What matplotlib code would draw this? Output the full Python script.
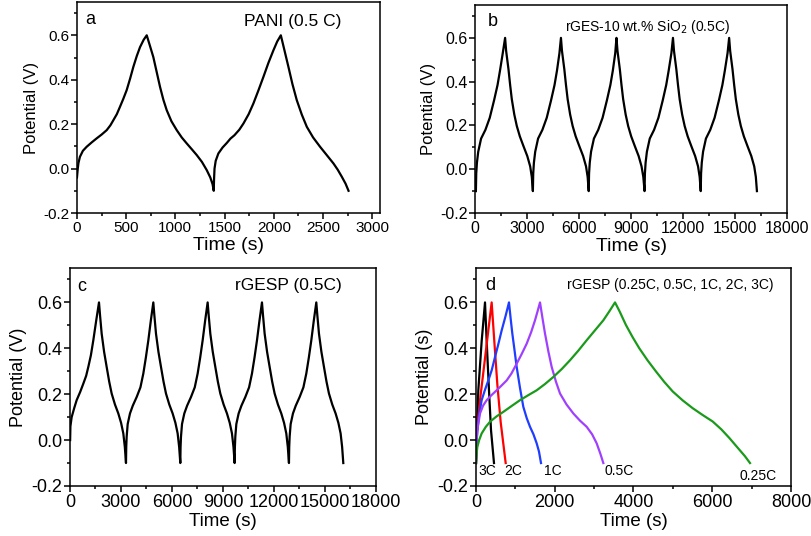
import matplotlib.pyplot as plt
from matplotlib.ticker import MultipleLocator

plt.rcParams['font.family'] = ['Liberation Sans', 'DejaVu Sans']

# ---- (a) PANI, 0.5 C
a_time = [0, 8, 15, 30, 60, 98, 150, 200, 250, 302, 340, 370, 405, 437, 470, 505, 540, 573, 608, 641, 678, 709,
          740, 776, 810, 844, 878, 912, 960, 1014, 1065, 1116, 1165, 1217, 1270, 1319, 1355, 1378, 1390,
          1393, 1398, 1410, 1437, 1480, 1522, 1560, 1600, 1650, 1692, 1745, 1793, 1845, 1895, 1945, 1997, 2035, 2072,
          2110, 2149, 2190, 2234, 2285, 2336, 2400, 2471, 2540, 2607, 2650, 2692, 2730, 2760]
a_volt = [-0.04, 0.0, 0.025, 0.053, 0.08, 0.098, 0.118, 0.136, 0.153, 0.173, 0.195, 0.218, 0.245, 0.278, 0.313,
          0.353, 0.405, 0.458, 0.507, 0.547, 0.58, 0.6,
          0.555, 0.502, 0.435, 0.368, 0.31, 0.263, 0.213, 0.173, 0.14, 0.113, 0.088, 0.061, 0.03, -0.007, -0.04,
          -0.07, -0.1,
          -0.05, 0.0, 0.035, 0.068, 0.095, 0.115, 0.135, 0.15, 0.175, 0.203, 0.245, 0.293, 0.353, 0.413, 0.475,
          0.533, 0.572, 0.6,
          0.53, 0.458, 0.38, 0.308, 0.243, 0.188, 0.14, 0.098, 0.06, 0.023, -0.005, -0.037, -0.068, -0.1]

# ---- (b) rGES-10 wt.% SiO2, 0.5C (five cycles)
b_time = [50, 70, 110, 185, 350, 600, 850, 1100, 1300, 1440, 1600, 1736,
          1796, 1930, 2026, 2122, 2266, 2412, 2586, 2798, 3016, 3183, 3276, 3338,
          3358, 3398, 3473, 3638, 3888, 4138, 4388, 4588, 4728, 4870, 4958,
          5018, 5152, 5248, 5344, 5488, 5634, 5808, 6020, 6238, 6405, 6498, 6560,
          6580, 6620, 6695, 6860, 7110, 7360, 7610, 7810, 7950, 8090, 8161,
          8221, 8355, 8451, 8547, 8691, 8837, 9011, 9223, 9441, 9608, 9710, 9782,
          9802, 9842, 9917, 10082, 10332, 10582, 10832, 11032, 11172, 11330, 11421,
          11481, 11615, 11711, 11807, 11951, 12097, 12271, 12483, 12701, 12868, 12961, 13023,
          13043, 13083, 13158, 13323, 13573, 13823, 14073, 14273, 14413, 14570, 14662,
          14722, 14856, 14952, 15048, 15192, 15338, 15512, 15724, 15942, 16109, 16202, 16265]
b_volt = [-0.1, -0.02, 0.03, 0.08, 0.14, 0.18, 0.235, 0.315, 0.385, 0.45, 0.53, 0.6,
          0.54, 0.457, 0.385, 0.32, 0.25, 0.197, 0.15, 0.105, 0.06, 0.013, -0.035, -0.1,
          -0.02, 0.03, 0.08, 0.14, 0.18, 0.235, 0.315, 0.385, 0.45, 0.53, 0.6,
          0.54, 0.457, 0.385, 0.32, 0.25, 0.197, 0.15, 0.105, 0.06, 0.013, -0.035, -0.1,
          -0.02, 0.03, 0.08, 0.14, 0.18, 0.235, 0.315, 0.385, 0.45, 0.53, 0.6,
          0.54, 0.457, 0.385, 0.32, 0.25, 0.197, 0.15, 0.105, 0.06, 0.013, -0.035, -0.1,
          -0.02, 0.03, 0.08, 0.14, 0.18, 0.235, 0.315, 0.385, 0.45, 0.53, 0.6,
          0.54, 0.457, 0.385, 0.32, 0.25, 0.197, 0.15, 0.105, 0.06, 0.013, -0.035, -0.1,
          -0.02, 0.03, 0.08, 0.14, 0.18, 0.235, 0.315, 0.385, 0.45, 0.53, 0.6,
          0.54, 0.457, 0.385, 0.32, 0.25, 0.197, 0.15, 0.105, 0.06, 0.013, -0.035, -0.1]

# ---- (c) rGESP, 0.5C (five cycles)
c_time = [8, 25, 98, 250, 392, 600, 784, 950, 1078, 1230, 1372, 1540, 1706,
          1766, 1863, 2006, 2157, 2306, 2451, 2646, 2843, 3006, 3137, 3226, 3294,
          3309, 3334, 3394, 3529, 3694, 3924, 4144, 4314, 4464, 4609, 4754, 4902,
          4962, 5059, 5202, 5353, 5502, 5647, 5842, 6039, 6202, 6333, 6422, 6490,
          6505, 6530, 6590, 6725, 6890, 7120, 7340, 7510, 7660, 7805, 7950, 8098,
          8158, 8255, 8398, 8549, 8698, 8843, 9038, 9235, 9398, 9529, 9618, 9686,
          9701, 9726, 9786, 9921, 10086, 10316, 10536, 10706, 10856, 11001, 11146, 11294,
          11354, 11451, 11594, 11745, 11894, 12039, 12234, 12431, 12594, 12725, 12814, 12882,
          12897, 12922, 12982, 13117, 13282, 13512, 13732, 13902, 14052, 14197, 14342, 14490,
          14550, 14647, 14790, 14941, 15090, 15235, 15430, 15627, 15790, 15921, 16010, 16078]
c_volt = [0.0, 0.06, 0.1, 0.14, 0.174, 0.21, 0.246, 0.28, 0.319, 0.37, 0.435, 0.52, 0.6,
          0.545, 0.464, 0.385, 0.319, 0.255, 0.203, 0.155, 0.116, 0.075, 0.029, -0.03, -0.1,
          -0.03, 0.015, 0.07, 0.116, 0.15, 0.188, 0.23, 0.29, 0.36, 0.435, 0.52, 0.6,
          0.545, 0.464, 0.385, 0.319, 0.255, 0.203, 0.155, 0.116, 0.075, 0.029, -0.03, -0.1,
          -0.03, 0.015, 0.07, 0.116, 0.15, 0.188, 0.23, 0.29, 0.36, 0.435, 0.52, 0.6,
          0.545, 0.464, 0.385, 0.319, 0.255, 0.203, 0.155, 0.116, 0.075, 0.029, -0.03, -0.1,
          -0.03, 0.015, 0.07, 0.116, 0.15, 0.188, 0.23, 0.29, 0.36, 0.435, 0.52, 0.6,
          0.545, 0.464, 0.385, 0.319, 0.255, 0.203, 0.155, 0.116, 0.075, 0.029, -0.03, -0.1,
          -0.03, 0.015, 0.07, 0.116, 0.15, 0.188, 0.23, 0.29, 0.36, 0.435, 0.52, 0.6,
          0.545, 0.464, 0.385, 0.319, 0.255, 0.203, 0.155, 0.116, 0.075, 0.029, -0.03, -0.1]

# ---- (d) rGESP at different C-rates
d_rates = ['3C', '2C', '1C', '0.5C', '0.25C']
d_colors = ['black', '#ff0000', '#1f3dff', '#a040ff', '#1a9a1a']
d_time = [
    [0, 59, 144, 229, 271, 330, 381, 457],
    [0, 17, 102, 203, 313, 398, 465, 542, 627, 754],
    [0, 10, 34, 80, 144, 230, 313, 400, 483, 570, 652, 750, 838,
     880, 923, 980, 1033, 1120, 1202, 1290, 1372, 1460, 1541, 1600, 1651],
    [0, 10, 34, 102, 180, 271, 400, 525, 650, 779, 900, 1033, 1160, 1287, 1400, 1499, 1570, 1626,
     1690, 1753, 1840, 1922, 2030, 2134, 2300, 2473, 2640, 2811, 2950, 3065, 3160, 3234],
    [0, 15, 34, 80, 144, 250, 356, 520, 694, 900, 1118, 1330, 1541, 1750, 1964, 2180, 2388,
     2600, 2811, 3020, 3234, 3390, 3531,
     3650, 3810, 3980, 4148, 4360, 4572, 4780, 4996, 5250, 5504, 5760, 6012, 6230, 6436,
     6570, 6690, 6830, 6960],
]
d_volt = [
    [-0.1, 0.217, 0.431, 0.6, 0.431, 0.217, 0.044, -0.1],
    [-0.1, 0.029, 0.174, 0.319, 0.478, 0.6, 0.431, 0.243, 0.078, -0.1],
    [-0.1, -0.03, 0.044, 0.11, 0.174, 0.22, 0.26, 0.305, 0.362, 0.42, 0.478, 0.54, 0.6,
     0.53, 0.464, 0.39, 0.319, 0.225, 0.145, 0.095, 0.058, 0.025, -0.014, -0.05, -0.1],
    [-0.1, -0.02, 0.044, 0.116, 0.15, 0.174, 0.197, 0.217, 0.238, 0.26, 0.29, 0.333, 0.375, 0.42,
     0.47, 0.522, 0.565, 0.6,
     0.53, 0.464, 0.385, 0.319, 0.255, 0.203, 0.155, 0.116, 0.085, 0.058, 0.025, -0.014, -0.06, -0.1],
    [-0.1, -0.06, -0.03, 0.0, 0.029, 0.058, 0.08, 0.103, 0.123, 0.148, 0.174, 0.196, 0.217, 0.244,
     0.275, 0.31, 0.348, 0.39, 0.435, 0.478, 0.522, 0.562, 0.6,
     0.56, 0.501, 0.448, 0.4, 0.347, 0.299, 0.254, 0.212, 0.173, 0.139, 0.109, 0.081, 0.047, 0.009,
     -0.018, -0.042, -0.07, -0.1],
]
d_label_x = [60, 730, 1720, 3270, 6700]
d_label_y = [-0.135, -0.135, -0.135, -0.135, -0.157]

fig = plt.figure(figsize=(8.12, 5.36), dpi=100)
ax_a = fig.add_axes([0.0948, 0.6026, 0.3732, 0.3937])
ax_b = fig.add_axes([0.5850, 0.6026, 0.3842, 0.3880])
ax_c = fig.add_axes([0.0862, 0.0933, 0.3768, 0.4067])
ax_d = fig.add_axes([0.5862, 0.0933, 0.3879, 0.4067])


def style(ax, xmax, xmajor, tick_fs, label_fs, ylab_fs, ylabel):
    ax.set_xlim(0, xmax)
    ax.set_ylim(-0.2, 0.75)
    ax.xaxis.set_major_locator(MultipleLocator(xmajor))
    ax.xaxis.set_minor_locator(MultipleLocator(xmajor / 2))
    ax.yaxis.set_major_locator(MultipleLocator(0.2))
    ax.yaxis.set_minor_locator(MultipleLocator(0.1))
    ax.tick_params(which='both', direction='out', top=False, right=False,
                   width=1.1, labelsize=tick_fs, pad=1.5)
    ax.tick_params(which='major', length=4)
    ax.tick_params(which='minor', length=2.5)
    for sp in ax.spines.values():
        sp.set_linewidth(1.1)
    ax.set_xlabel('Time (s)', fontsize=label_fs, labelpad=2)
    ax.set_ylabel(ylabel, fontsize=ylab_fs, labelpad=3)
    ax.yaxis.set_major_formatter(plt.FuncFormatter(lambda v, p: f'{v:.1f}'))


ax_a.plot(a_time, a_volt, color='black', lw=1.6)
style(ax_a, 3080, 500, 11, 14, 12, 'Potential (V)')
ax_a.text(0.028, 0.955, 'a', transform=ax_a.transAxes, fontsize=13, va='top')
ax_a.text(0.55, 0.945, 'PANI (0.5 C)', transform=ax_a.transAxes, fontsize=12.5, va='top')

ax_b.plot(b_time, b_volt, color='black', lw=1.6)
style(ax_b, 18000, 3000, 11.5, 14, 12, 'Potential (V)')
ax_b.text(0.04, 0.96, 'b', transform=ax_b.transAxes, fontsize=13, va='top')
ax_b.text(0.29, 0.94, 'rGES-10 wt.% SiO$_2$ (0.5C)', transform=ax_b.transAxes,
          fontsize=10, va='top')

ax_c.plot(c_time, c_volt, color='black', lw=1.6)
style(ax_c, 18000, 3000, 13, 13.5, 13, 'Potential (V)')
ax_c.text(0.025, 0.955, 'c', transform=ax_c.transAxes, fontsize=13, va='top')
ax_c.text(0.54, 0.955, 'rGESP (0.5C)', transform=ax_c.transAxes, fontsize=12.5, va='top')

for t, v, c in zip(d_time, d_volt, d_colors):
    ax_d.plot(t, v, color=c, lw=1.6)
for lab, x, y in zip(d_rates, d_label_x, d_label_y):
    ax_d.text(x, y, lab, fontsize=10, va='center', ha='left', color='black')
style(ax_d, 8000, 2000, 13, 13.5, 13, 'Potential (s)')
ax_d.text(0.03, 0.96, 'd', transform=ax_d.transAxes, fontsize=13, va='top')
ax_d.text(0.29, 0.955, 'rGESP (0.25C, 0.5C, 1C, 2C, 3C)', transform=ax_d.transAxes,
          fontsize=10, va='top')

fig.savefig('out.png', dpi=100)
